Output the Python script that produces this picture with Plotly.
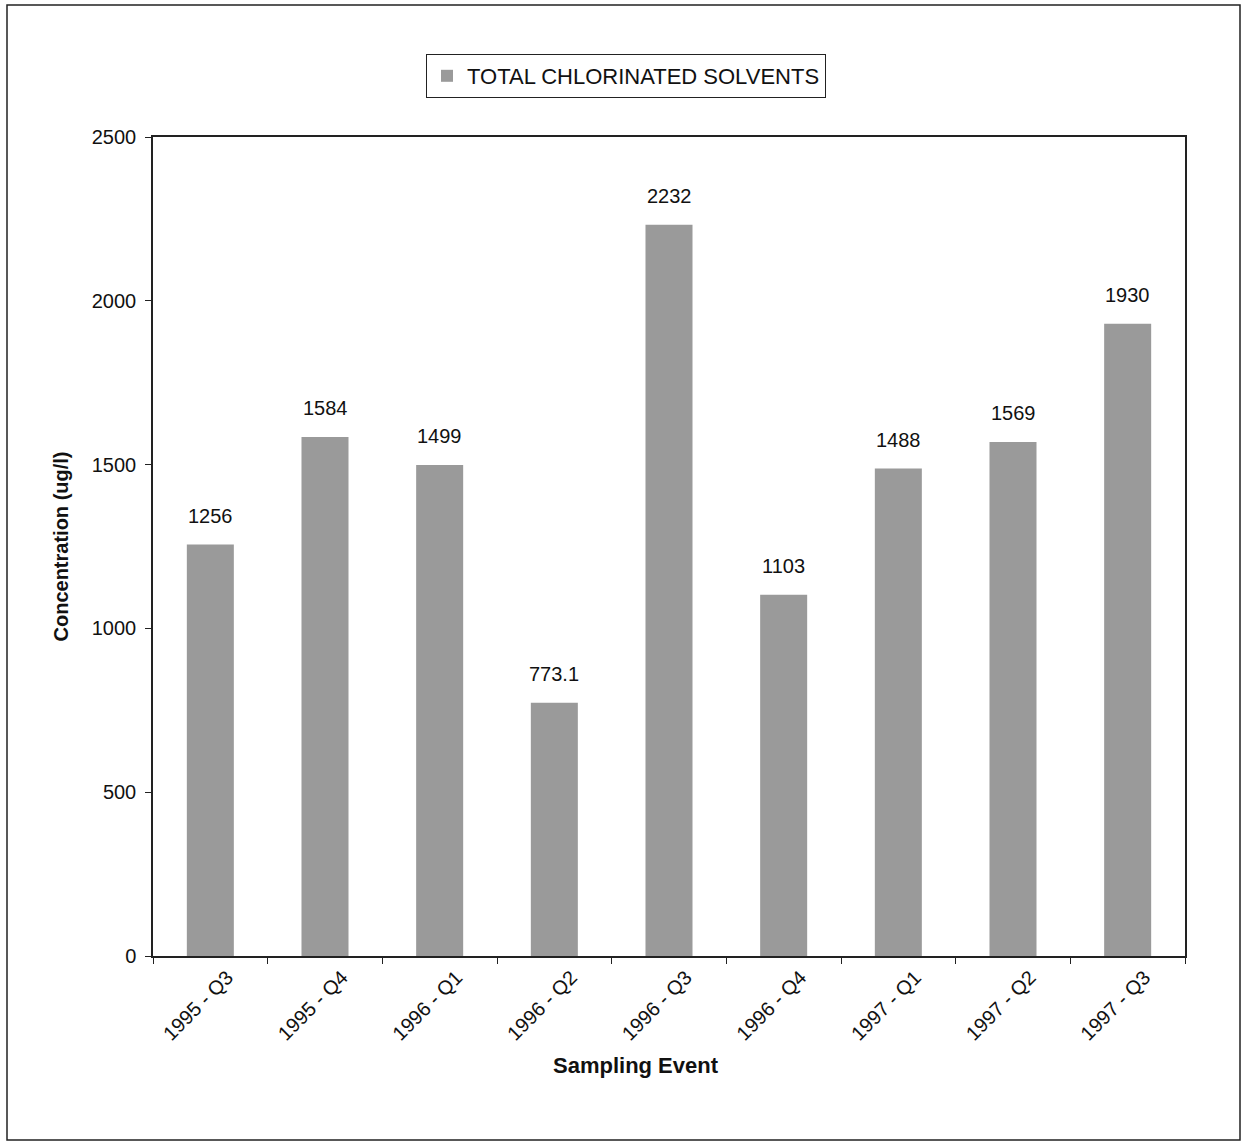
import plotly.graph_objects as go

# Sampling events and total chlorinated solvent concentrations (ug/l)
events = ["1995 - Q3", "1995 - Q4", "1996 - Q1", "1996 - Q2", "1996 - Q3",
          "1996 - Q4", "1997 - Q1", "1997 - Q2", "1997 - Q3"]
concentration = [1256, 1584, 1499, 773.1, 2232, 1103, 1488, 1569, 1930]
value_labels = ["1256", "1584", "1499", "773.1", "2232", "1103", "1488", "1569", "1930"]
y_ticks = [0, 500, 1000, 1500, 2000, 2500]

W, H = 1242, 1146
L, R, T, B = 153, 57, 137, 190
pw, ph = W - L - R, H - T - B

def px_x(px):
    return (px - L) / pw

def px_y(py):
    return (H - B - py) / ph

FONT = "Liberation Sans, Arial, sans-serif"
INK = "#111"

fig = go.Figure()
fig.add_trace(go.Bar(
    x=events,
    y=concentration,
    name="TOTAL CHLORINATED SOLVENTS",
    marker=dict(color="#9a9a9a", line=dict(width=0)),
    width=0.41,
))

# value labels above each bar
annotations = [
    dict(x=e, y=v, xref="x", yref="y", text=t, showarrow=False,
         yanchor="bottom", yshift=16,
         font=dict(family=FONT, size=20, color=INK))
    for e, v, t in zip(events, concentration, value_labels)
]

# x-axis title, centred under the chart area as a whole
annotations.append(dict(
    x=px_x(636), y=px_y(1065), xref="paper", yref="paper",
    text="<b>Sampling Event</b>", showarrow=False,
    xanchor="center", yanchor="middle",
    font=dict(family=FONT, size=22, color=INK),
))

fig.update_layout(
    width=W, height=H,
    margin=dict(l=L, r=R, t=T, b=B),
    paper_bgcolor="white",
    plot_bgcolor="white",
    font=dict(family=FONT, size=20, color=INK),
    showlegend=True,
    legend=dict(
        x=px_x(626), y=px_y(54), xanchor="center", yanchor="top",
        orientation="h",
        bordercolor="#222", borderwidth=1,
        font=dict(family=FONT, size=22, color=INK),
        itemwidth=30,
    ),
    xaxis=dict(
        type="category",
        tickangle=-45,
        showline=True, linecolor="#222", linewidth=1.5, mirror=True,
        ticks="outside", ticklen=6, tickcolor="#222",
        tickson="boundaries",
        tickfont=dict(family=FONT, size=20, color=INK),
        ticklabelshift=17,
        showgrid=False,
    ),
    yaxis=dict(
        range=[0, 2500],
        tickvals=y_ticks,
        showline=True, linecolor="#222", linewidth=1.5, mirror=True,
        ticks="outside", ticklen=6, tickcolor="#222",
        tickfont=dict(family=FONT, size=20, color=INK),
        ticklabelstandoff=5,
        title=dict(text="<b>Concentration (ug/l)</b>", font=dict(family=FONT, size=20, color=INK), standoff=18),
        showgrid=False, zeroline=False,
    ),
    annotations=annotations,
    shapes=[
        dict(type="rect", xref="paper", yref="paper",
             x0=px_x(7), x1=px_x(1240), y0=px_y(1140), y1=px_y(5),
             line=dict(color="#222", width=1.5), fillcolor="rgba(0,0,0,0)"),
    ],
)

fig.write_html("out.html")
